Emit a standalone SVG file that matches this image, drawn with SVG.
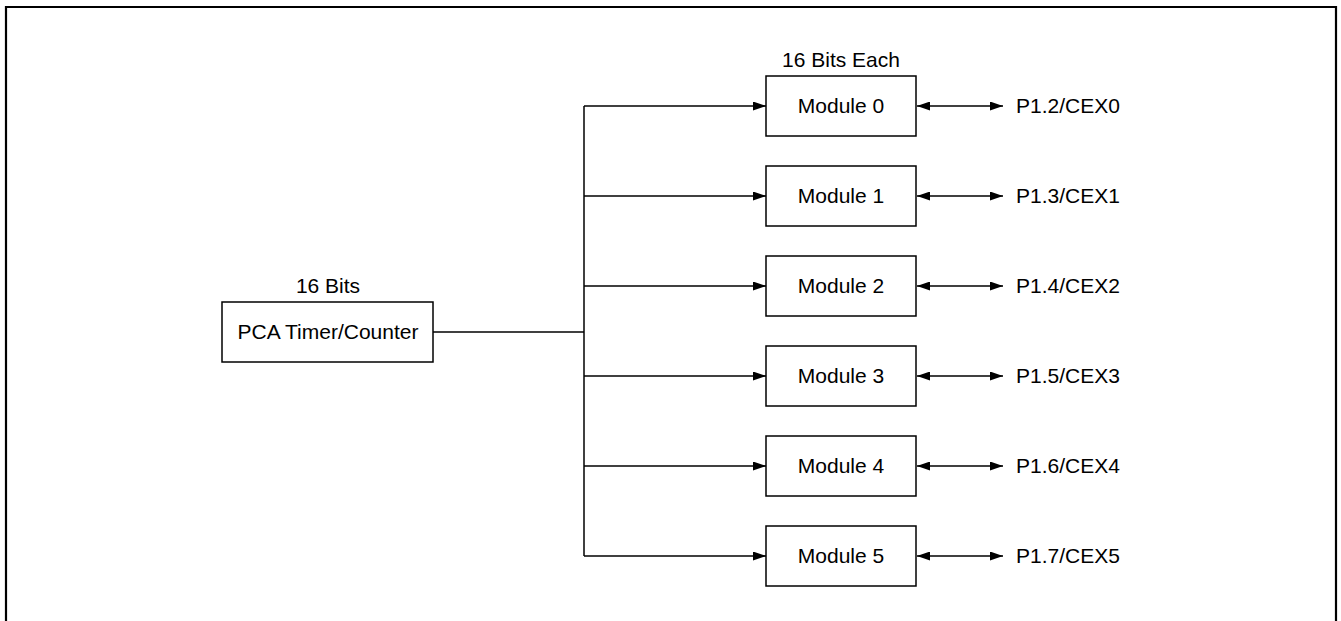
<svg xmlns="http://www.w3.org/2000/svg" width="1341" height="621" viewBox="0 0 1341 621">
<defs>
<style>
.box{fill:#fff;stroke:#000;stroke-width:1.5}
.ln{fill:none;stroke:#000;stroke-width:1.5}
.t{font-family:"Liberation Sans",Arial,sans-serif;font-size:21px;fill:#000}
.c{text-anchor:middle}
</style>
<marker id="ah" viewBox="0 0 13 9" refX="13" refY="4.5" markerWidth="13" markerHeight="9" markerUnits="userSpaceOnUse" orient="auto-start-reverse">
<path d="M0,0 L13,4.5 L0,9 Z" fill="#000"/>
</marker>
</defs>
<rect width="1341" height="621" fill="#fff"/>
<path d="M6,625 V7 H1336 V625" fill="none" stroke="#000" stroke-width="2.2"/>
<g id="connectors">
<path class="ln" d="M433,332 H584"/>
<path class="ln" d="M584,106 V556"/>
<path class="ln" d="M584,106 H766" marker-end="url(#ah)"/>
<path class="ln" d="M584,196 H766" marker-end="url(#ah)"/>
<path class="ln" d="M584,286 H766" marker-end="url(#ah)"/>
<path class="ln" d="M584,376 H766" marker-end="url(#ah)"/>
<path class="ln" d="M584,466 H766" marker-end="url(#ah)"/>
<path class="ln" d="M584,556 H766" marker-end="url(#ah)"/>
<path class="ln" d="M917,106 H1003" marker-start="url(#ah)" marker-end="url(#ah)"/>
<path class="ln" d="M917,196 H1003" marker-start="url(#ah)" marker-end="url(#ah)"/>
<path class="ln" d="M917,286 H1003" marker-start="url(#ah)" marker-end="url(#ah)"/>
<path class="ln" d="M917,376 H1003" marker-start="url(#ah)" marker-end="url(#ah)"/>
<path class="ln" d="M917,466 H1003" marker-start="url(#ah)" marker-end="url(#ah)"/>
<path class="ln" d="M917,556 H1003" marker-start="url(#ah)" marker-end="url(#ah)"/>
</g>
<g id="pca">
<text class="t c" x="328" y="293">16 Bits</text>
<rect class="box" x="222" y="302" width="211" height="60"/>
<text class="t c" x="328" y="339">PCA Timer/Counter</text>
</g>
<text class="t c" x="841" y="67">16 Bits Each</text>
<g id="module0"><rect class="box" x="766" y="76" width="150" height="60"/><text class="t c" x="841" y="113">Module 0</text></g>
<g id="module1"><rect class="box" x="766" y="166" width="150" height="60"/><text class="t c" x="841" y="203">Module 1</text></g>
<g id="module2"><rect class="box" x="766" y="256" width="150" height="60"/><text class="t c" x="841" y="293">Module 2</text></g>
<g id="module3"><rect class="box" x="766" y="346" width="150" height="60"/><text class="t c" x="841" y="383">Module 3</text></g>
<g id="module4"><rect class="box" x="766" y="436" width="150" height="60"/><text class="t c" x="841" y="473">Module 4</text></g>
<g id="module5"><rect class="box" x="766" y="526" width="150" height="60"/><text class="t c" x="841" y="563">Module 5</text></g>
<g id="pins">
<text class="t" x="1016" y="113">P1.2/CEX0</text>
<text class="t" x="1016" y="203">P1.3/CEX1</text>
<text class="t" x="1016" y="293">P1.4/CEX2</text>
<text class="t" x="1016" y="383">P1.5/CEX3</text>
<text class="t" x="1016" y="473">P1.6/CEX4</text>
<text class="t" x="1016" y="563">P1.7/CEX5</text>
</g>
</svg>
